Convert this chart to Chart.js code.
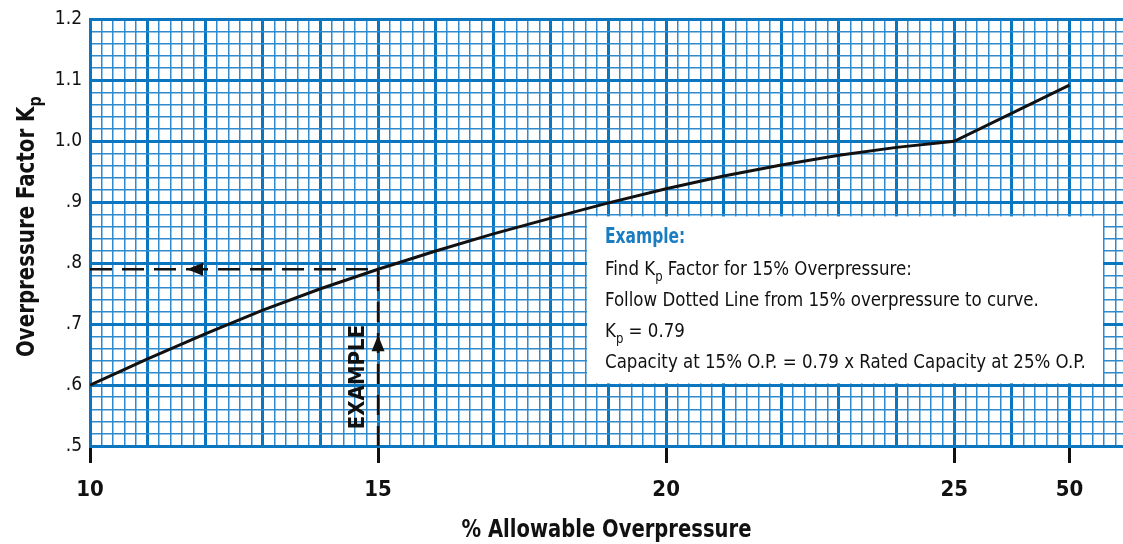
<!DOCTYPE html>
<html>
<head>
<meta charset="utf-8">
<script src="https://cdn.jsdelivr.net/npm/chart.js@4.4.1/dist/chart.umd.min.js"></script>
<style>
  html, body { margin: 0; padding: 0; background: #fff; }
</style>
</head>
<body>
<canvas id="chart" width="1123" height="544"></canvas>
<script>
const NARROW = "'Liberation Sans Narrow', 'DejaVu Sans Condensed', sans-serif";
const BLUE = "#0a76c0";
const MINOR = "#2f8ace";

// curve (the 50% point sits two grid units after 25%)
const overpressure = [10, 11, 12, 13, 14, 15, 16, 17, 18, 19, 20, 21, 22, 23, 24, 25, 27];
const kpFactor = [0.600, 0.643, 0.684, 0.723, 0.758, 0.790, 0.820, 0.848, 0.874, 0.899, 0.922, 0.943, 0.961, 0.977, 0.990, 1.000, 1.092];

const xTickValues = [10, 15, 20, 25, 27];
const xTickText = ["10", "15", "20", "25", "50"];
const yTickValues = [0.5, 0.6, 0.7, 0.8, 0.9, 1.0, 1.1, 1.2];
const yTickText = [".5", ".6", ".7", ".8", ".9", "1.0", "1.1", "1.2"];

const exampleOverpressure = 15;
const exampleKp = 0.79;

// graph paper: 5 minor lines per unit on x, 5 per 0.1 on y
const xGrid = [];
for (let i = 0; i < 90; i++) xGrid.push(Math.round((10 + i * 0.2) * 10) / 10);
const yGrid = [];
for (let i = 0; i <= 35; i++) yGrid.push(Math.round((0.5 + i * 0.02) * 100) / 100);

const near = (a, b) => Math.abs(a - b) < 1e-6;
const xLabel = v => { const i = xTickValues.findIndex(t => near(t, v)); return i < 0 ? "" : xTickText[i]; };
const yLabel = v => { const i = yTickValues.findIndex(t => near(t, v)); return i < 0 ? "" : yTickText[i]; };
const xMajor = v => near(v, Math.round(v));
const yMajor = v => yTickValues.some(t => near(t, v));

// text with a "p" subscript, squeezed a bit to look like a condensed face
function richWidth(ctx, parts, size, weight) {
  let w = 0;
  parts.forEach(p => {
    ctx.font = weight + " " + (p.sub ? Math.round(size * 0.72) : size) + "px " + NARROW;
    w += ctx.measureText(p.t).width;
  });
  return w;
}
function richText(ctx, parts, x, y, size, weight, squeeze) {
  ctx.save();
  ctx.translate(x, y);
  ctx.scale(squeeze, 1);
  let cx = 0;
  parts.forEach(p => {
    const s = p.sub ? Math.round(size * 0.72) : size;
    ctx.font = weight + " " + s + "px " + NARROW;
    ctx.fillText(p.t, cx, p.sub ? size * 0.28 : 0);
    cx += ctx.measureText(p.t).width;
  });
  ctx.restore();
}

const boxLines = [
  [{ t: "Find K" }, { t: "p", sub: true }, { t: " Factor for 15% Overpressure:" }],
  [{ t: "Follow Dotted Line from 15% overpressure to curve." }],
  [{ t: "K" }, { t: "p", sub: true }, { t: " = 0.79" }],
  [{ t: "Capacity at 15% O.P. = 0.79 x Rated Capacity at 25% O.P." }]
];
const yTitle = [{ t: "Overpressure Factor K" }, { t: "p", sub: true }];
const xTitle = [{ t: "% Allowable Overpressure" }];

const overlay = {
  id: "overlay",
  afterDatasetsDraw(chart) {
    const { ctx, chartArea: ca, scales: { x, y } } = chart;
    const ex = x.getPixelForValue(exampleOverpressure);
    const ey = y.getPixelForValue(exampleKp);
    ctx.save();
    ctx.fillStyle = "#111";
    // arrow pointing left
    const ax = ca.left + 97;
    ctx.beginPath();
    ctx.moveTo(ax, ey); ctx.lineTo(ax + 16, ey - 6.5); ctx.lineTo(ax + 16, ey + 6.5); ctx.closePath(); ctx.fill();
    // arrow pointing up
    const ay = ey + 66;
    ctx.beginPath();
    ctx.moveTo(ex, ay); ctx.lineTo(ex - 6.5, ay + 16); ctx.lineTo(ex + 6.5, ay + 16); ctx.closePath(); ctx.fill();
    // EXAMPLE label
    ctx.save();
    ctx.translate(ex - 21, ca.bottom - 69);
    ctx.rotate(-Math.PI / 2);
    ctx.font = "bold 22px " + NARROW;
    ctx.textAlign = "center"; ctx.textBaseline = "middle";
    ctx.fillText("EXAMPLE", 0, 1);
    ctx.restore();

    // example box
    const bx = ca.left + 497, by = ca.top + 197;
    ctx.fillStyle = "#fff";
    ctx.fillRect(bx, by, 516, 167);
    ctx.textAlign = "left"; ctx.textBaseline = "alphabetic";
    ctx.fillStyle = "#1a7cc1";
    richText(ctx, [{ t: "Example:" }], bx + 18, by + 27, 21, "bold", 0.82);
    ctx.fillStyle = "#111";
    boxLines.forEach((ln, i) => richText(ctx, ln, bx + 18, by + 59 + i * 31, 20, "normal", 0.925));

    // axis titles
    ctx.save();
    ctx.translate(34, (ca.top + ca.bottom) / 2 - 6);
    ctx.rotate(-Math.PI / 2);
    const wy = richWidth(ctx, yTitle, 25, "bold") * 0.88;
    richText(ctx, yTitle, -wy / 2, 0, 25, "bold", 0.88);
    ctx.restore();
    const wx = richWidth(ctx, xTitle, 25, "bold") * 0.87;
    richText(ctx, xTitle, (ca.left + ca.right) / 2 - wx / 2, 537, 25, "bold", 0.87);
    ctx.restore();
  }
};

const ctx = document.getElementById("chart").getContext("2d");
const chart = new Chart(ctx, {
  type: "line",
  data: {
    datasets: [
      {
        label: "Kp",
        data: overpressure.map((v, i) => ({ x: v, y: kpFactor[i] })),
        borderColor: "#111",
        borderWidth: 3,
        pointRadius: 0,
        tension: 0
      },
      {
        label: "example across",
        data: [{ x: 10, y: exampleKp }, { x: exampleOverpressure, y: exampleKp }],
        borderColor: "#111",
        borderWidth: 2.5,
        borderDash: [22, 10],
        pointRadius: 0
      },
      {
        label: "example up",
        data: [{ x: exampleOverpressure, y: 0.5 }, { x: exampleOverpressure, y: exampleKp }],
        borderColor: "#111",
        borderWidth: 2.5,
        borderDash: [20, 11],
        pointRadius: 0
      }
    ]
  },
  options: {
    responsive: false,
    animation: false,
    layout: { padding: { top: 18, right: 0, left: 0, bottom: 0 } },
    plugins: { legend: { display: false }, tooltip: { enabled: false } },
    scales: {
      x: {
        type: "linear",
        min: 10,
        max: 27.93,
        afterBuildTicks: s => { s.ticks = xGrid.map(v => ({ value: v })); },
        afterFit: s => { s.height = 98; s.paddingLeft = 0; s.paddingRight = 0; },
        ticks: {
          autoSkip: false,
          maxRotation: 0,
          padding: 14,
          color: "#111",
          font: { family: NARROW, size: 22, weight: "bold" },
          callback: v => xLabel(v)
        },
        grid: {
          color: c => xMajor(c.tick.value) ? BLUE : MINOR,
          lineWidth: c => xMajor(c.tick.value) ? 3 : 1.5,
          tickLength: 17,
          tickWidth: 3,
          tickColor: c => xLabel(c.tick.value) ? "#111" : "rgba(0,0,0,0)"
        },
        border: { color: BLUE, width: 3 }
      },
      y: {
        type: "linear",
        min: 0.5,
        max: 1.2,
        afterBuildTicks: s => { s.ticks = yGrid.map(v => ({ value: v })); },
        afterFit: s => { s.width = 90; },
        ticks: {
          autoSkip: false,
          padding: 8,
          color: "#111",
          font: { family: NARROW, size: 19 },
          callback: v => yLabel(v)
        },
        grid: {
          color: c => yMajor(c.tick.value) ? BLUE : MINOR,
          lineWidth: c => yMajor(c.tick.value) ? 3 : 1.5,
          drawTicks: false
        },
        border: { color: BLUE, width: 3 }
      }
    }
  },
  plugins: [overlay]
});
</script>
</body>
</html>
